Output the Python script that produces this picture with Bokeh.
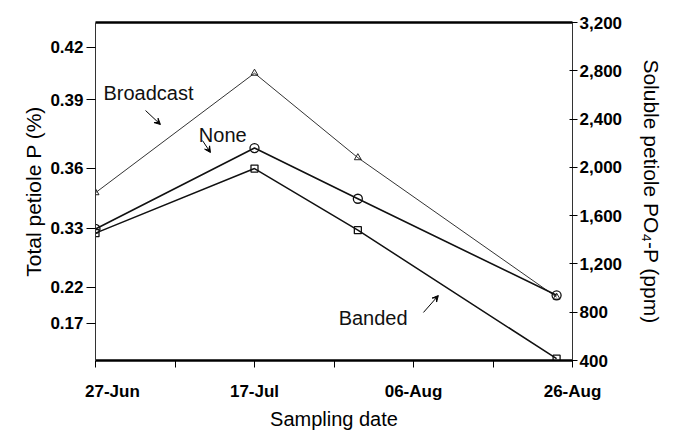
import pandas as pd
from bokeh.plotting import figure
from bokeh.models import (LinearAxis, Range1d, FixedTicker, DatetimeTickFormatter,
                          NumeralTickFormatter, Label, Arrow, VeeHead)
from bokeh.embed import file_html
from bokeh.resources import INLINE

# ---- data ----
dates = ["1990-06-27", "1990-07-17", "1990-07-30", "1990-08-24"]
broadcast = [1790, 2780, 2080, 925]
none_ = [1490, 2160, 1740, 940]
banded = [1455, 1990, 1480, 415]

x_start, x_end = "1990-06-27", "1990-08-26"
# label anchors (the first date label sits a little right of the axis corner)
x_label_pos = ["1990-06-29T03:00", "1990-07-17", "1990-08-06", "1990-08-26"]
x_labels = ["27-Jun", "17-Jul", "06-Aug", "26-Aug"]
x_tick_marks = ["1990-06-27", "1990-07-07", "1990-07-17", "1990-07-27",
                "1990-08-06", "1990-08-16", "1990-08-26"]
right_ticks = [400, 800, 1200, 1600, 2000, 2400, 2800, 3200]
left_tick_labels = ["0.42", "0.39", "0.36", "0.33", "0.22", "0.17"]
left_tick_pos = [2993, 2562, 1991, 1494, 1005, 707]

FONT = "Liberation Sans"
TICK_PX = "17px"

def ms(d):
    return pd.Timestamp(d).timestamp() * 1000.0

xd = pd.to_datetime(dates)

p = figure(width=678, height=437, output_backend="svg", toolbar_location=None,
           x_axis_type="datetime", y_axis_location=None,
           x_range=Range1d(pd.Timestamp(x_start), pd.Timestamp(x_end)),
           y_range=Range1d(400, 3200),
           min_border_left=95, min_border_right=106, min_border_top=22,
           min_border_bottom=77)
p.outline_line_color = None
p.xgrid.visible = False
p.ygrid.visible = False
p.background_fill_color = "white"

def style_axis(ax, label_px):
    ax.major_label_text_font = FONT
    ax.major_label_text_font_style = "bold"
    ax.major_label_text_font_size = TICK_PX
    ax.major_label_text_color = "black"
    ax.axis_label_text_font = FONT
    ax.axis_label_text_font_style = "normal"
    ax.axis_label_text_font_size = label_px
    ax.axis_label_text_color = "black"
    ax.major_tick_line_color = "black"
    ax.minor_tick_line_color = "black"

# bottom axis
xa = p.xaxis[0]
style_axis(xa, "20px")
xa.ticker = FixedTicker(ticks=[ms(d) for d in x_label_pos],
                        minor_ticks=[ms(d) for d in x_tick_marks])
xa.formatter = DatetimeTickFormatter(days="%d-%b", months="%d-%b")
xa.major_label_overrides = {ms(d): s for d, s in zip(x_label_pos, x_labels)}
xa.axis_line_width = 2.5
xa.major_tick_in = 0
xa.major_tick_out = 0
xa.minor_tick_in = 0
xa.minor_tick_out = 7
xa.major_label_standoff = 14
xa.axis_label = "Sampling date"
xa.axis_label_standoff = 4

# left axis
la = LinearAxis(ticker=FixedTicker(ticks=left_tick_pos),
                major_label_overrides={v: s for v, s in zip(left_tick_pos, left_tick_labels)})
style_axis(la, "21px")
la.axis_label = "Total petiole P (%)"
la.axis_line_width = 1
la.axis_line_color = "#333333"
la.major_tick_in = 0
la.major_tick_out = 9
la.minor_tick_out = 0
la.minor_tick_in = 0
la.major_label_standoff = 3
la.axis_label_standoff = 2
p.add_layout(la, "left")

# right axis
ra = LinearAxis(ticker=FixedTicker(ticks=right_ticks), formatter=NumeralTickFormatter(format="0,0"))
style_axis(ra, "21px")
ra.axis_label = "Soluble petiole PO\u2084-P (ppm)"
ra.axis_line_width = 1
ra.axis_line_color = "#333333"
ra.major_tick_in = 3
ra.major_tick_out = 5
ra.minor_tick_out = 0
ra.minor_tick_in = 0
ra.major_label_standoff = 2
ra.axis_label_standoff = 15
p.add_layout(ra, "right")

# top border
ta = LinearAxis(ticker=FixedTicker(ticks=[]), major_label_text_font_size="0px")
ta.axis_line_width = 2.5
ta.major_tick_out = 0
ta.minor_tick_out = 0
p.add_layout(ta, "above")

# series
p.line(xd, broadcast, line_color="#333333", line_width=1)
p.scatter(xd, broadcast, marker="triangle", size=7, fill_color=None, line_color="#222222")
p.line(xd, none_, line_color="#111111", line_width=1.6)
p.scatter(xd, none_, marker="circle", size=9, fill_color=None, line_color="#111111", line_width=1.3)
p.line(xd, banded, line_color="#111111", line_width=1.5)
p.scatter(xd, banded, marker="square", size=7, fill_color=None, line_color="#111111", line_width=1.3)

# annotations
def lab(txt, d, y):
    p.add_layout(Label(x=pd.Timestamp(d), y=y, text=txt, text_font=FONT,
                       text_baseline="alphabetic",
                       text_font_size="20px", text_color="#111111"))

lab("Broadcast", "1990-06-28", 2612)
lab("None", "1990-07-10", 2264)
lab("Banded", "1990-07-27T14:00", 748)

def arr(d0, y0, d1, y1):
    p.add_layout(Arrow(end=VeeHead(size=6, fill_color="black", line_color="black"),
                       x_start=pd.Timestamp(d0), y_start=y0,
                       x_end=pd.Timestamp(d1), y_end=y1,
                       line_color="black", line_width=1))

arr("1990-07-03T07:00", 2471, "1990-07-05T04:00", 2355)
arr("1990-07-10T11:00", 2222, "1990-07-11T11:00", 2123)
arr("1990-08-07T06:00", 798, "1990-08-09T03:00", 938)

open("out.html", "w").write(file_html(p, INLINE))
